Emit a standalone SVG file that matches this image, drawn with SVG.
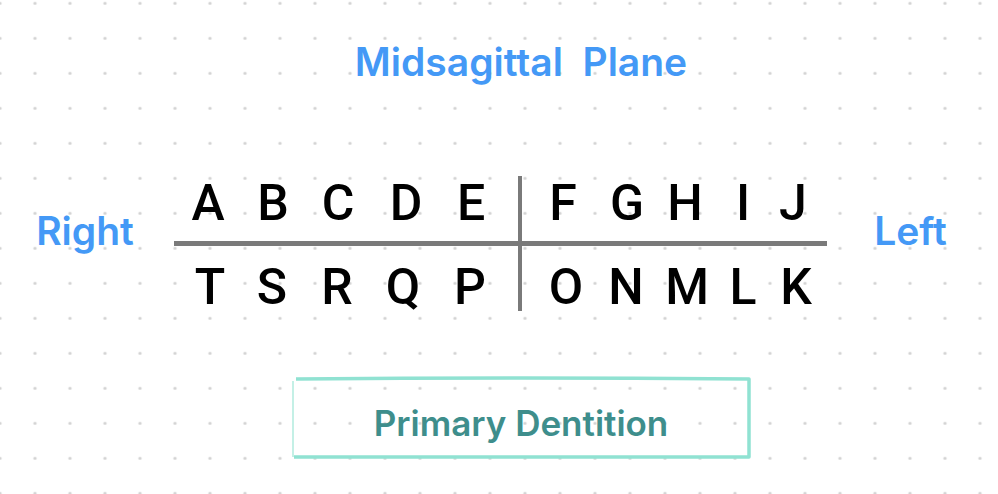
<svg xmlns="http://www.w3.org/2000/svg" width="998" height="494" viewBox="0 0 998 494">
<defs>
<pattern id="dots" x="-17.5" y="-14.2" width="35" height="35" patternUnits="userSpaceOnUse">
<circle cx="17.5" cy="17.5" r="1.6" fill="#d2d2d2"/>
</pattern>
<style>
.side{font-family:Inter,"Open Sans","Liberation Sans",sans-serif;font-weight:600;fill:#4499f6;font-size:39px;text-anchor:middle;}
.tooth{font-family:Roboto,"Liberation Sans",sans-serif;font-weight:500;font-size:50px;fill:#000;text-anchor:middle;}
.rule{stroke:#7a7a7a;fill:none;}
</style>
</defs>
<rect width="998" height="494" fill="#ffffff"/>
<rect width="998" height="494" fill="url(#dots)"/>
<g id="title"><text class="side" x="521" y="76" xml:space="preserve">Midsagittal  Plane</text></g>
<g id="right"><text class="side" x="85" y="245">Right</text></g>
<g id="left"><text class="side" x="910.5" y="245">Left</text></g>
<g id="connectors">
<line class="rule" x1="174" y1="243.5" x2="827" y2="243.5" stroke-width="5"/>
<line class="rule" x1="520" y1="176" x2="520" y2="311" stroke-width="4"/>
</g>
<g id="upper-teeth">
<text class="tooth" x="208" y="220">A</text>
<text class="tooth" x="273" y="220">B</text>
<text class="tooth" x="338" y="220">C</text>
<text class="tooth" x="406" y="220">D</text>
<text class="tooth" x="471" y="220">E</text>
<text class="tooth" x="563" y="220">F</text>
<text class="tooth" x="627" y="220">G</text>
<text class="tooth" x="685" y="220">H</text>
<text class="tooth" x="743" y="220">I</text>
<text class="tooth" x="793" y="220">J</text>
</g>
<g id="lower-teeth">
<text class="tooth" x="210" y="304">T</text>
<text class="tooth" x="272" y="304">S</text>
<text class="tooth" x="337" y="304">R</text>
<text class="tooth" x="403" y="304">Q</text>
<text class="tooth" x="470" y="304">P</text>
<text class="tooth" x="566" y="304">O</text>
<text class="tooth" x="626" y="304">N</text>
<text class="tooth" x="687" y="304">M</text>
<text class="tooth" x="743" y="304">L</text>
<text class="tooth" x="796" y="304">K</text>
</g>
<g id="primary-dentition">
<path d="M296 379 Q520 377 749 379 L749 457 L294 457" fill="none" stroke="#90e2d2" stroke-width="3.5" stroke-linejoin="round"/>
<path d="M293 457 L293 381" fill="none" stroke="#c4f0e6" stroke-width="2"/>
<text x="521" y="436" font-family="Inter,'Open Sans','Liberation Sans',sans-serif" font-weight="600" font-size="35" fill="#3e8e8c" text-anchor="middle">Primary Dentition</text>
</g>
</svg>
